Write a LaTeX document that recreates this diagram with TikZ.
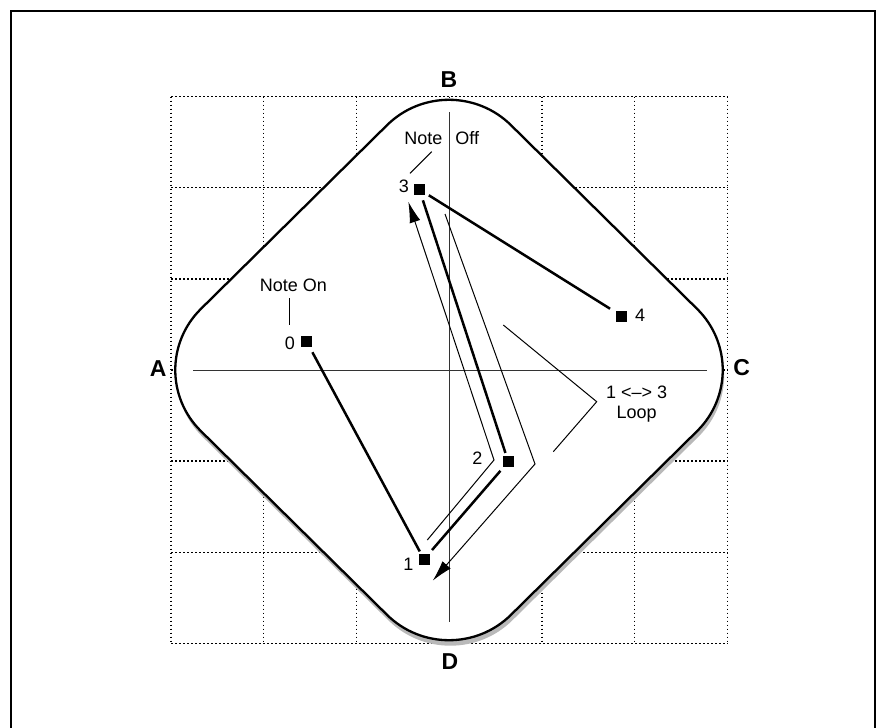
\documentclass[tikz,border=0pt]{standalone}
\usepackage{fontspec}
\setmainfont{Liberation Sans}
\usetikzlibrary{arrows.meta}
\begin{document}
\begin{tikzpicture}[x=1pt,y=-1pt,
  lbl/.style={font=\fontsize{18}{20.6}\selectfont, inner sep=0pt},
  axlbl/.style={font=\fontsize{23}{26}\selectfont\bfseries, inner sep=0pt},
  pnt/.style={rectangle, fill=black, minimum size=11pt, inner sep=0pt},
  gridline/.style={line width=1.3pt, black, dash pattern=on 1.6pt off 2.4pt},
  axisline/.style={line width=1pt, black!80},
  heavy/.style={line width=2.5pt},
  thinline/.style={line width=1pt},
  looparrow/.style={thinline, -{Latex[length=21pt,width=11pt]}},
  shapeline/.style={line width=2.3pt, rounded corners=87pt}
]
\useasboundingbox (0,0) rectangle (881,728);
% frame
\draw[line width=2pt] (10.7,728) -- (10.7,10.7) -- (875,10.7) -- (875,728);
% grid
\foreach \i in {0,...,6} {
  \draw[gridline] ({171+\i*92.72},96.7) -- ({171+\i*92.72},643.3);
  \draw[gridline] (171,{96.7+\i*91.1}) -- (727.3,{96.7+\i*91.1});
}
% shadow and shape
\fill[gray!55, shift={(1.4,5.5)}, rounded corners=87pt]
  (294,217) -- (449,64) -- (759,370) -- (449,676) -- (139,370) -- cycle;
\filldraw[fill=white, shapeline]
  (294,217) -- (449,64) -- (759,370) -- (449,676) -- (139,370) -- cycle;
% axes
\coordinate (axL) at (193,370);
\coordinate (axR) at (707,370);
\coordinate (axT) at (449,112);
\coordinate (axB) at (449,622);
\draw[axisline] (axL) -- (axR);
\draw[axisline] (axT) -- (axB);
\node[axlbl] (A) at (158.3,368.3) {A};
\node[axlbl] (B) at (449,80) {B};
\node[axlbl] (C) at (741.7,367.7) {C};
\node[axlbl] (D) at (450,661.7) {D};
% points
\node[pnt] (p0) at (306.7,341.7) {};
\node[pnt] (p1) at (424,559.3) {};
\node[pnt] (p2) at (508.3,461.7) {};
\node[pnt] (p3) at (419.3,189.3) {};
\node[pnt] (p4) at (621.7,316) {};
\node[lbl] (l0) at (290,343.3) {0};
\node[lbl] (l1) at (408.3,564) {1};
\node[lbl] (l2) at (477.3,458.3) {2};
\node[lbl] (l3) at (404,186.7) {3};
\node[lbl] (l4) at (640,315) {4};
% labels
\node[lbl] (noteon) at (293.3,285) {Note On};
\node[lbl] (noteoff) at (441.7,138.3) {Note\hspace{13pt}Off};
\node[lbl, align=center] (loop) at (636.7,404.2) {1 <--> 3\\Loop};
% leaders
\coordinate (on1) at (289.3,298);
\coordinate (on2) at (289.3,325);
\draw[thinline] (on1) -- (on2);
\coordinate (off1) at (431.7,151.7);
\coordinate (off2) at (410,173.3);
\draw[thinline] (off1) -- (off2);
\coordinate (lp1) at (503.3,325);
\coordinate (lp2) at (596.7,401.7);
\coordinate (lp3) at (553.3,451.7);
\draw[thinline] (lp1) -- (lp2) -- (lp3);
% heavy path
\draw[heavy, shorten <=5.5pt, shorten >=2.5pt] (p0) -- (p1);
\draw[heavy, shorten <=4.5pt, shorten >=7pt] (p3) -- (p4);
\draw[heavy, shorten <=5.6pt, shorten >=3.3pt] (p3) -- (p2);
\draw[heavy, shorten <=4.5pt, shorten >=4.7pt] (p2) -- (p1);
% loop arrows
\coordinate (la) at (427.3,540);
\coordinate (lv) at (494,460);
\coordinate (lt) at (408.3,201.7);
\draw[looparrow] (la) -- (lv) -- (lt);
\coordinate (ra) at (445,214);
\coordinate (rv) at (535,464);
\coordinate (rt) at (432.7,580.7);
\draw[looparrow] (ra) -- (rv) -- (rt);
\end{tikzpicture}
\end{document}
